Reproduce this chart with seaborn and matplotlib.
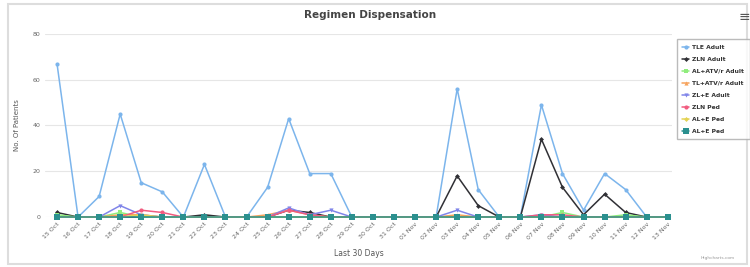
import matplotlib
matplotlib.use('Agg')
import matplotlib.pyplot as plt
import matplotlib.patches as mpatches
import numpy as np
import pandas as pd
import seaborn as sns

dates = ['15 Oct', '16 Oct', '17 Oct', '18 Oct', '19 Oct', '20 Oct', '21 Oct', '22 Oct',
         '23 Oct', '24 Oct', '25 Oct', '26 Oct', '27 Oct', '28 Oct', '29 Oct', '30 Oct',
         '31 Oct', '01 Nov', '02 Nov', '03 Nov', '04 Nov', '05 Nov', '06 Nov', '07 Nov',
         '08 Nov', '09 Nov', '10 Nov', '11 Nov', '12 Nov', '13 Nov']

tle_adult = [67, 0, 9, 45, 15, 11, 0, 23, 0, 0, 13, 43, 19, 19, 0, 0, 0, 0, 0, 56, 12, 0, 0, 49, 19, 3, 19, 12, 0, 0]
zln_adult = [2, 0, 0, 0, 0, 0, 0, 1, 0, 0, 0, 3, 2, 0, 0, 0, 0, 0, 0, 18, 5, 0, 0, 34, 13, 1, 10, 2, 0, 0]
al_atv_adult = [1, 0, 0, 2, 0, 0, 0, 0, 0, 0, 0, 0, 0, 0, 0, 0, 0, 0, 0, 0, 0, 0, 0, 0, 2, 0, 0, 1, 0, 0]
tl_atv_adult = [0, 0, 0, 1, 1, 0, 0, 0, 0, 0, 1, 3, 1, 0, 0, 0, 0, 0, 0, 1, 0, 0, 0, 0, 0, 0, 0, 0, 0, 0]
zl_e_adult = [0, 0, 0, 5, 1, 0, 0, 0, 0, 0, 0, 4, 1, 3, 0, 0, 0, 0, 0, 3, 0, 0, 0, 1, 0, 0, 0, 0, 0, 0]
zln_ped = [0, 0, 0, 0, 3, 2, 0, 0, 0, 0, 0, 3, 1, 0, 0, 0, 0, 0, 0, 0, 0, 0, 0, 1, 1, 0, 0, 0, 0, 0]
al_e_ped_1 = [0, 0, 0, 0, 1, 0, 0, 0, 0, 0, 0, 0, 0, 0, 0, 0, 0, 0, 0, 0, 0, 0, 0, 0, 0, 0, 0, 0, 0, 0]
al_e_ped_2 = [0] * 30

series = [
    ('TLE Adult', tle_adult, '#7cb5ec', 'o', 3),
    ('ZLN Adult', zln_adult, '#303035', 'D', 2.5),
    ('AL+ATV/r Adult', al_atv_adult, '#90ed7d', 's', 3),
    ('TL+ATV/r Adult', tl_atv_adult, '#f7a35c', '^', 3),
    ('ZL+E Adult', zl_e_adult, '#8085e9', 'v', 3),
    ('ZLN Ped', zln_ped, '#f15c80', 'o', 3),
    ('AL+E Ped', al_e_ped_1, '#e4d354', 'D', 2.5),
    ('AL+E Ped', al_e_ped_2, '#2b908f', 's', 4),
]

sns.set_style('white')
plt.rcParams['font.family'] = ['DejaVu Sans']

fig = plt.figure(figsize=(7.5, 2.67), dpi=100)
ax = fig.add_axes([0.06, 0.187, 0.836, 0.686])

x = np.arange(len(dates))
for name, vals, color, marker, ms in series:
    sns.lineplot(x=x, y=vals, ax=ax, color=color, marker=marker, markersize=ms,
                 markeredgewidth=0, linewidth=1.1, clip_on=False, label=name, legend=False)

ax.set_ylim(0, 80)
ax.set_xlim(-0.57, 29.2)
ax.set_yticks([0, 20, 40, 60, 80])
ax.set_yticklabels(['0', '20', '40', '60', '80'], fontsize=4.5, color='#666666')
ax.set_xticks(x)
ax.set_xticklabels(dates, rotation=45, ha='right', rotation_mode='anchor', fontsize=4.5, color='#666666')
ax.tick_params(axis='both', length=0, pad=3)
ax.grid(axis='y', color='#e6e6e6', linewidth=0.8)
ax.set_axisbelow(True)
for s in ax.spines.values():
    s.set_visible(False)
ax.set_ylabel('No. Of Patients', fontsize=5, color='#555555', labelpad=9)
ax.set_xlabel('Last 30 Days', fontsize=5.5, color='#555555', labelpad=6)

fig.text(0.493, 0.943, 'Regimen Dispensation', ha='center', va='center', fontsize=7.5,
         fontweight='bold', color='#444444')
fig.text(0.993, 0.935, '\u2261', ha='center', va='center', fontsize=10, color='#555555')
fig.text(0.98, 0.035, 'Highcharts.com', ha='right', va='center', fontsize=3.2, color='#999999')

h, l = ax.get_legend_handles_labels()
leg = fig.legend(h, l, loc='upper left', bbox_to_anchor=(0.9, 0.86), fontsize=4.3,
                 frameon=True, fancybox=False, edgecolor='#aaaaaa', handlelength=1.2,
                 handletextpad=0.5, labelspacing=1.15, borderpad=0.9, borderaxespad=0.3)
for t in leg.get_texts():
    t.set_fontweight('bold')
    t.set_color('#333333')

fig.patches.append(mpatches.Rectangle((0.011, 0.012), 0.985, 0.972, transform=fig.transFigure,
                                      fill=False, edgecolor='#dddddd', linewidth=1.5))

fig.savefig('out.png', dpi=100)
